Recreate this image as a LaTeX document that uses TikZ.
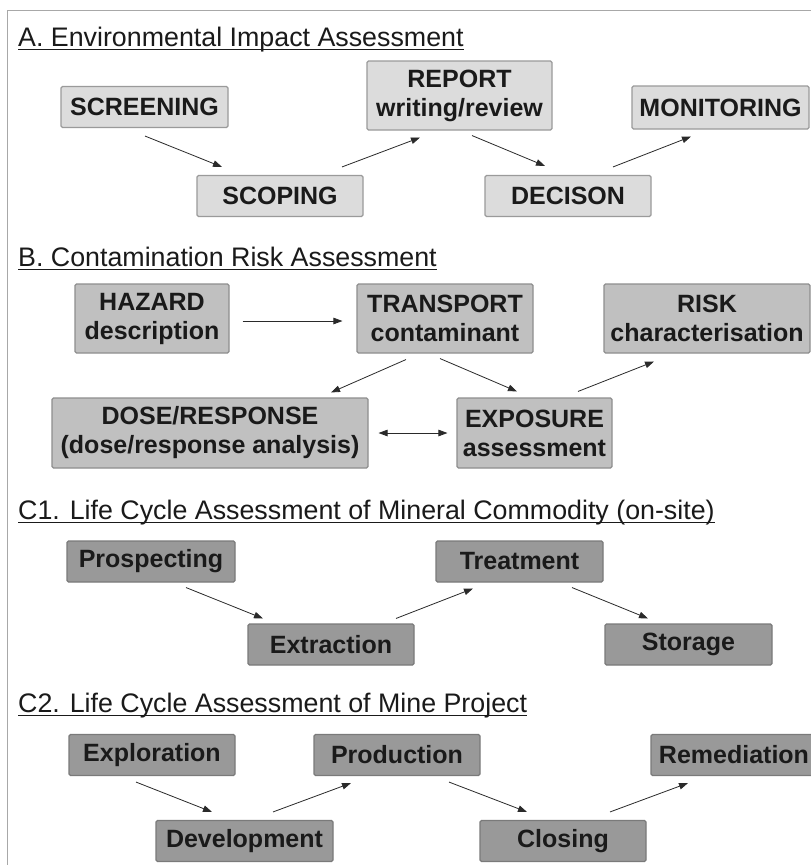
\documentclass[tikz,border=0pt]{standalone}
\usepackage{fontspec}
\setmainfont{Liberation Sans}
\usetikzlibrary{arrows.meta}

\definecolor{ink}{HTML}{1A1A1A}
\definecolor{frameline}{HTML}{A8A8A8}
\definecolor{fillA}{HTML}{DCDCDC}
\definecolor{fillB}{HTML}{C0C0C0}
\definecolor{fillC}{HTML}{999999}
\definecolor{edgeA}{HTML}{9A9A9A}
\definecolor{edgeB}{HTML}{8E8E8E}
\definecolor{edgeC}{HTML}{7A7A7A}
\definecolor{arrowink}{HTML}{2A2A2A}

\tikzset{
  stage/.style={draw=#1, line width=1.1pt, rounded corners=1.5pt, align=center,
    font=\fontsize{25}{29}\selectfont\bfseries, text=ink, inner sep=0pt,
    minimum height=41pt, minimum width=166pt},
  stageA/.style={stage=edgeA, fill=fillA},
  stageB/.style={stage=edgeB, fill=fillB, minimum height=69pt},
  stageC/.style={stage=edgeC, fill=fillC},
  tall/.style={minimum height=69pt},
  flow/.style={draw=arrowink, line width=0.8pt, -{Triangle[length=9pt,width=6.5pt]}},
  twoway/.style={draw=arrowink, line width=0.8pt, {Triangle[length=9pt,width=6.5pt]}-{Triangle[length=9pt,width=6.5pt]}},
  heading/.style={anchor=base west, font=\fontsize{26.8}{30}\selectfont, text=ink, inner sep=0pt},
  underl/.style={draw=ink, line width=1.2pt},
}

\begin{document}
\begin{tikzpicture}[x=1pt,y=-1pt]
\useasboundingbox (0,0) rectangle (811,865);
\fill[white] (0,0) rectangle (811,865);

% outer frame (open towards right and bottom)
\draw[frameline, line width=1.2pt] (7.5,865) -- (7.5,10.7) -- (811,10.7);

% ---------------- A. Environmental Impact Assessment
\node[heading] (titleA) at (18,46) {A. Environmental Impact Assessment};
\draw[underl] ([yshift=-3.5pt]titleA.base west) -- ([yshift=-3.5pt]titleA.base east);

\node[stageA, minimum width=167pt] (screening) at (144.5,107) {SCREENING};
\node[stageA, tall, minimum width=185pt] (report) at (459.5,95.5) {REPORT\\writing/review};
\node[stageA, minimum width=177pt, minimum height=43pt] (monitoring) at (720.5,107.5) {MONITORING};
\node[stageA] (scoping) at (280,196) {SCOPING};
\node[stageA] (decison) at (568,196) {DECISON};

\draw[flow] ([shift={(0.5,8)}]screening.south) -- ([shift={(-58,-8)}]scoping.north);
\draw[flow] ([shift={(62,-8)}]scoping.north) -- ([shift={(-39.5,7)}]report.south);
\draw[flow] ([shift={(12.5,5)}]report.south) -- ([shift={(-23,-9)}]decison.north);
\draw[flow] ([shift={(45,-8)}]decison.north) -- ([shift={(-29.5,7)}]monitoring.south);

% ---------------- B. Contamination Risk Assessment
\node[heading] (titleB) at (18,266) {B. Contamination Risk Assessment};
\draw[underl] ([yshift=-3.5pt]titleB.base west) -- ([yshift=-3.5pt]titleB.base east);

\node[stageB, minimum width=154pt] (hazard) at (152,318.5) {HAZARD\\description};
\node[stageB, minimum width=176pt] (transport) at (445,318.5) {TRANSPORT\\contaminant};
\node[stageB, minimum width=206pt] (risk) at (707,318.5) {RISK\\characterisation};
\node[stageB, minimum width=316pt, minimum height=70pt] (dose) at (210,433) {DOSE/RESPONSE\\(dose/response analysis)};
\node[stageB, minimum width=155pt, minimum height=70pt] (exposure) at (534.5,433) {EXPOSURE\\assessment};

\draw[flow] ([shift={(13,2.5)}]hazard.east) -- ([shift={(-14,2.5)}]transport.west);
\draw[flow] ([shift={(-39,6)}]transport.south) -- ([shift={(121,-5)}]dose.north);
\draw[flow] ([shift={(-5,5)}]transport.south) -- ([shift={(-17.5,-6)}]exposure.north);
\draw[flow] ([shift={(43.5,-6)}]exposure.north) -- ([shift={(-53,8)}]risk.south);
\draw[twoway] ([shift={(10,0)}]dose.east) -- ([shift={(-9,0)}]exposure.west);

% ---------------- C1. Life Cycle Assessment of Mineral Commodity
\node[heading] (titleC1) at (18,519) {C1. Life Cycle Assessment of Mineral Commodity (on-site)};
\draw[underl] ([yshift=-3.5pt]titleC1.base west) -- ([yshift=-3.5pt]titleC1.base east);

\node[stageC, minimum width=168pt] (prospecting) at (151,561.5) {Prospecting};
\node[stageC, minimum width=167pt] (treatment) at (519.5,561.5) {Treatment};
\node[stageC] (extraction) at (331,644.5) {Extraction};
\node[stageC, minimum width=167pt] (storage) at (688.5,644.5) {Storage};

\draw[flow] ([shift={(35,5)}]prospecting.south) -- ([shift={(-68,-5)}]extraction.north);
\draw[flow] ([shift={(65,-5)}]extraction.north) -- ([shift={(-46.5,6)}]treatment.south);
\draw[flow] ([shift={(52.5,5)}]treatment.south) -- ([shift={(-40.5,-5)}]storage.north);

% ---------------- C2. Life Cycle Assessment of Mine Project
\node[heading] (titleC2) at (18,712) {C2. Life Cycle Assessment of Mine Project};
\draw[underl] ([yshift=-3.5pt]titleC2.base west) -- ([yshift=-3.5pt]titleC2.base east);

\node[stageC] (exploration) at (152,755) {Exploration};
\node[stageC] (production) at (397,755) {Production};
\node[stageC] (remediation) at (734,755) {Remediation};
\node[stageC, minimum width=177pt] (development) at (244.5,841) {Development};
\node[stageC] (closing) at (563,841) {Closing};

\draw[flow] ([shift={(-16,6)}]exploration.south) -- ([shift={(-32.5,-8)}]development.north);
\draw[flow] ([shift={(28.5,-8)}]development.north) -- ([shift={(-46,7)}]production.south);
\draw[flow] ([shift={(52,6)}]production.south) -- ([shift={(-36,-8)}]closing.north);
\draw[flow] ([shift={(47,-8)}]closing.north) -- ([shift={(-46,7)}]remediation.south);
\end{tikzpicture}
\end{document}
